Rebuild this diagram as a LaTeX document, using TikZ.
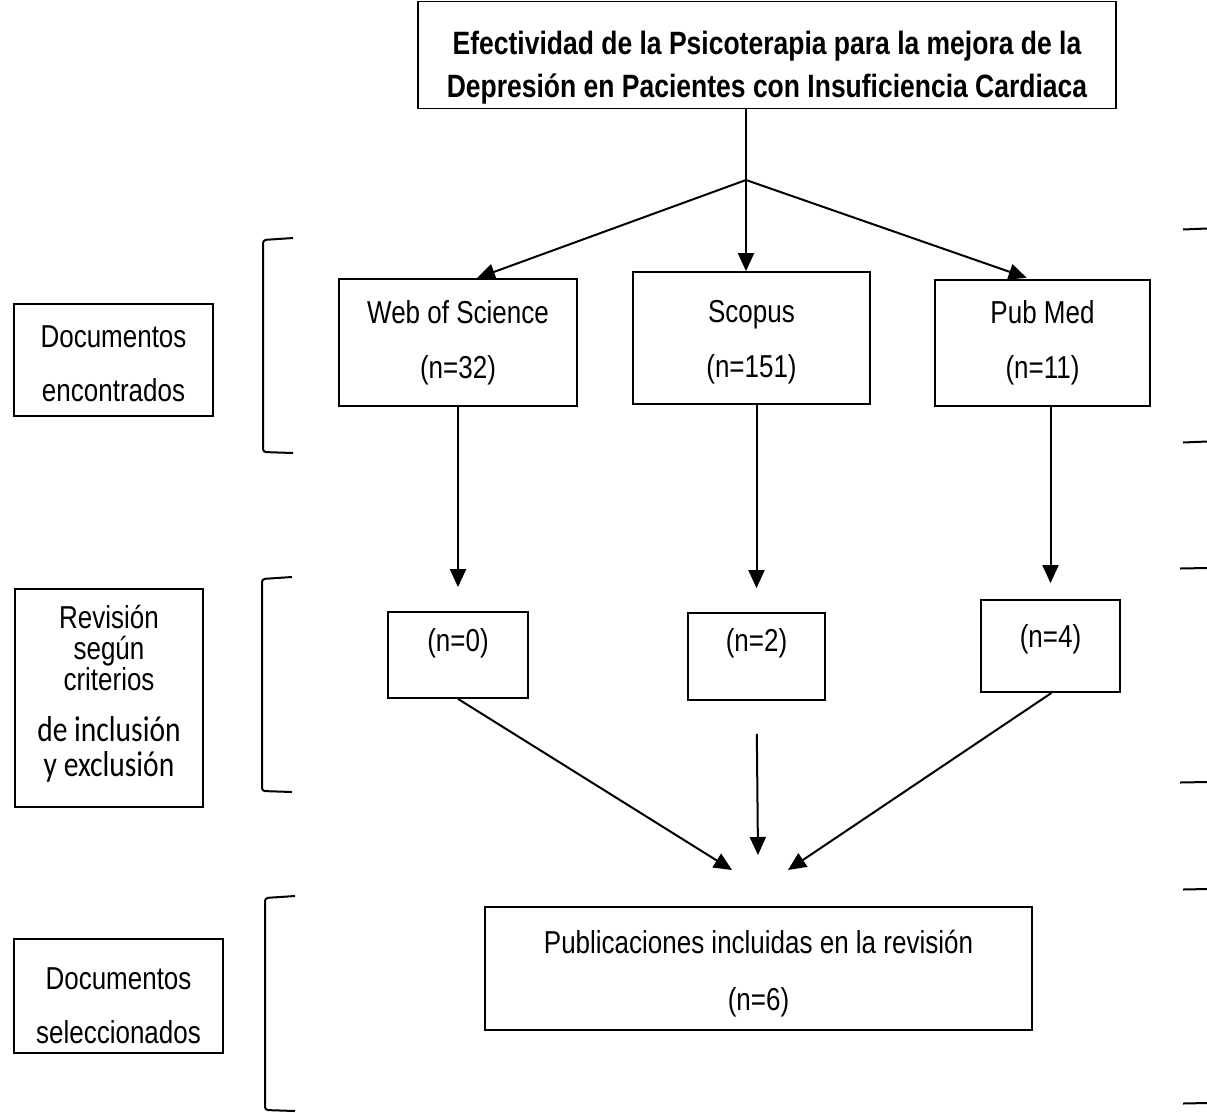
\documentclass[tikz,border=0pt]{standalone}
\usepackage{fontspec}
\setmainfont{Liberation Sans}[FakeStretch=0.82]
\newfontfamily\calfont{Carlito}[FakeStretch=0.82]
\usetikzlibrary{arrows.meta}
\newcommand\bajar[1]{\rule{0pt}{#1}}
\begin{document}
\begin{tikzpicture}[x=1pt,y=-1pt,
    caja/.style={draw,line width=1.8pt,align=center,inner sep=0pt,font=\fontsize{31.7}{55}\selectfont},
    cifra/.style={caja,text height=23pt,text depth=31pt},
    flecha/.style={-{Triangle[length=18pt,width=16pt]},line width=2pt},
    llave/.style={line width=2pt,rounded corners=3pt}]
                \useasboundingbox (0,0) rectangle (1207,1112);
                \node[caja,minimum width=698pt,minimum height=107pt,font=\bfseries\fontsize{32.3}{43}\selectfont] (titulo) at (767,55) {\bajar{48pt}Efectividad de la Psicoterapia para la mejora de la\\Depresión en Pacientes con Insuficiencia Cardiaca};
                \node[caja,minimum width=238pt,minimum height=127pt] (wos) at (458,342.5) {Web of Science\\(n=32)};
                \node[caja,minimum width=237pt,minimum height=132pt] (scopus) at (751.5,338) {\bajar{31pt}Scopus\\(n=151)};
                \node[caja,minimum width=215pt,minimum height=126pt] (pubmed) at (1042.5,343) {Pub Med\\(n=11)};
                \node[cifra,minimum width=140pt,minimum height=86pt] (r0) at (458,655) {(n=0)};
                \node[cifra,minimum width=137pt,minimum height=87pt,text depth=34pt] (r2) at (756.5,656.5) {(n=2)};
                \node[cifra,minimum width=139pt,minimum height=92pt,text depth=21pt] (r4) at (1050.5,646) {(n=4)};
                \node[caja,minimum width=547pt,minimum height=123pt,font=\fontsize{31.7}{57}\selectfont] (final) at (758.5,968.5) {\bajar{33pt}Publicaciones incluidas en la revisión\\(n=6)};
                % etapas a la izquierda
                \node[caja,minimum width=199pt,minimum height=112pt,font=\fontsize{31.7}{54}\selectfont] (encontrados) at (113.5,360) {\bajar{30pt}Documentos\\encontrados};
                \node[caja,minimum width=188pt,minimum height=218pt,font=\fontsize{31.7}{31}\selectfont] (revision) at (109,698) {Revisión\\según\\criterios\\[20pt]{\calfont\fontsize{36}{31}\selectfont de inclusión}\\[4pt]{\calfont\fontsize{36}{31}\selectfont y exclusión}\rule[-14pt]{0pt}{14pt}};
                \node[caja,minimum width=209pt,minimum height=114pt,font=\fontsize{31.7}{54}\selectfont] (seleccionados) at (118.5,996) {\bajar{42pt}Documentos\\seleccionados};
                % flechas
                \coordinate (jn) at (746,180);
                \draw[line width=2pt] ([xshift=-21pt]titulo.south) -- (jn);
                \draw[flecha] (jn) -- ([xshift=19pt]wos.north);
                \draw[flecha] (jn) -- (jn |- scopus.north);
                \draw[flecha,shorten >=4pt] (jn) -- ([xshift=-12pt]pubmed.north);
                \draw[flecha,shorten >=24pt] (wos.south) -- (r0.north);
                \draw[flecha,shorten >=24pt] (r2.north |- scopus.south) -- (r2.north);
                \draw[flecha,shorten >=16pt] (r4.north |- pubmed.south) -- (r4.north);
                \coordinate (llegaL) at (732,870);
                \coordinate (llegaC) at (758,855);
                \coordinate (llegaR) at (788,870);
                \draw[flecha] (r0.south) -- (llegaL);
                \draw[flecha,shorten <=33pt] (r2.south) -- (llegaC);
                \draw[flecha] ([xshift=1pt]r4.south) -- (llegaR);
                % llaves
                \draw[llave] (293,238) -- (263,240) -- (263,452) -- (293,453);
                \draw[llave] (292,577) -- (262,579) -- (262,791) -- (292,792);
                \draw[llave] (295,896) -- (265,898) -- (265,1110) -- (295,1111);
                \draw[line width=2pt] (1183,229.5) -- (1207,228.5);
                \draw[line width=2pt] (1183,442.5) -- (1207,441.5);
                \draw[line width=2pt] (1180,568.5) -- (1207,568);
                \draw[line width=2pt] (1180,782.5) -- (1207,782);
                \draw[line width=2pt] (1183,889.5) -- (1207,889);
                \draw[line width=2pt] (1183,1103.5) -- (1207,1103);
            \end{tikzpicture}
\end{document}
